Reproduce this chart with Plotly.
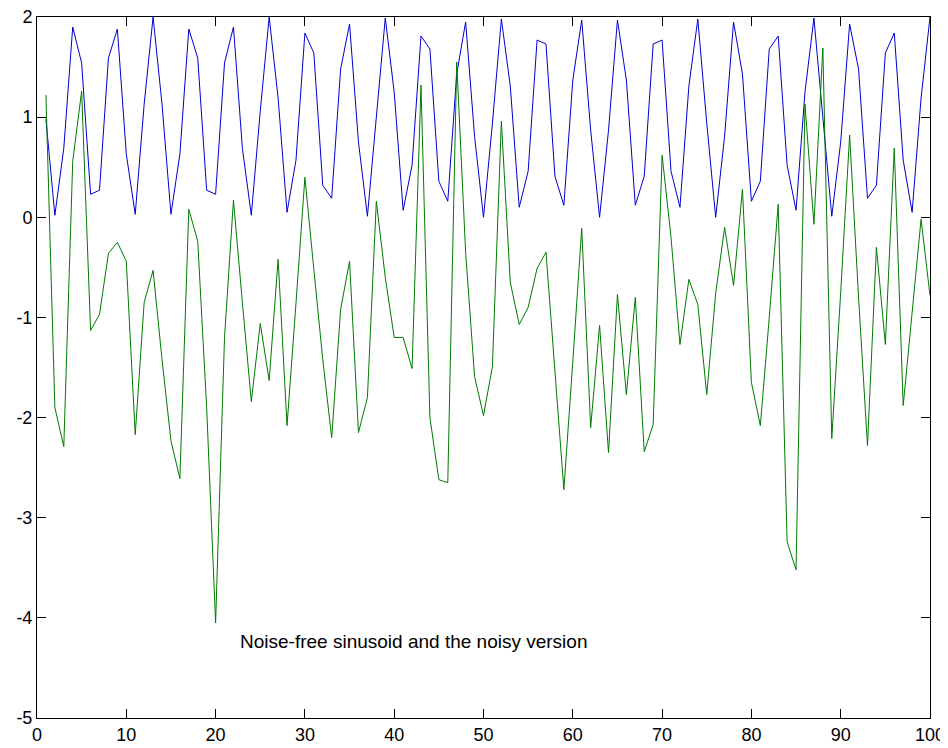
import plotly.graph_objects as go

x_vals = list(range(1, 101))

clean_signal = [
    0.98, 0.02, 0.69, 1.90, 1.54, 0.23, 0.27, 1.59, 1.88, 0.63,
    0.03, 1.13, 2.00, 1.13, 0.03, 0.63, 1.88, 1.59, 0.27, 0.23,
    1.54, 1.90, 0.69, 0.02, 1.06, 2.00, 1.19, 0.05, 0.57, 1.84,
    1.64, 0.32, 0.19, 1.48, 1.93, 0.75, 0.01, 1.00, 1.99, 1.25,
    0.07, 0.52, 1.81, 1.68, 0.36, 0.16, 1.43, 1.95, 0.81, 0.00,
    0.94, 1.98, 1.31, 0.10, 0.46, 1.77, 1.73, 0.41, 0.12, 1.37,
    1.97, 0.87, 0.00, 0.87, 1.97, 1.37, 0.12, 0.41, 1.73, 1.77,
    0.46, 0.10, 1.31, 1.98, 0.94, 0.00, 0.81, 1.95, 1.43, 0.16,
    0.36, 1.68, 1.81, 0.52, 0.07, 1.25, 1.99, 1.00, 0.01, 0.75,
    1.93, 1.48, 0.19, 0.32, 1.64, 1.84, 0.57, 0.05, 1.19, 2.00,
]

noisy_signal = [
    1.22, -1.90, -2.29, 0.56, 1.26, -1.13, -0.97, -0.36, -0.25, -0.44,
    -2.17, -0.85, -0.53, -1.42, -2.23, -2.61, 0.08, -0.24, -1.90, -4.05,
    -1.20, 0.17, -0.85, -1.84, -1.06, -1.63, -0.42, -2.08, -0.86, 0.40,
    -0.52, -1.42, -2.20, -0.92, -0.44, -2.15, -1.80, 0.16, -0.60, -1.20,
    -1.20, -1.51, 1.32, -2.00, -2.62, -2.65, 1.55, -0.35, -1.59, -1.98,
    -1.49, 0.96, -0.65, -1.07, -0.90, -0.51, -0.35, -1.55, -2.72, -1.44,
    -0.11, -2.10, -1.08, -2.35, -0.77, -1.77, -0.80, -2.34, -2.07, 0.62,
    -0.20, -1.27, -0.62, -0.87, -1.77, -0.76, -0.10, -0.68, 0.28, -1.65,
    -2.08, -1.00, 0.13, -3.24, -3.52, 1.13, -0.07, 1.69, -2.21, -0.75,
    0.82, -0.80, -2.28, -0.30, -1.27, 0.69, -1.88, -0.95, -0.02, -0.78,
]

x_ticks = [0, 10, 20, 30, 40, 50, 60, 70, 80, 90, 100]
x_tick_labels = ["0", "10", "20", "30", "40", "50", "60", "70", "80", "90", "100"]
y_ticks = [-5, -4, -3, -2, -1, 0, 1, 2]
y_tick_labels = ["-5", "-4", "-3", "-2", "-1", "0", "1", "2"]

caption = "Noise-free sinusoid and the noisy version"
caption_x = 22.5
caption_y = -4.24

fig = go.Figure()
fig.add_trace(go.Scatter(x=x_vals, y=clean_signal, mode="lines",
                         line=dict(color="#0000d0", width=1), showlegend=False))
fig.add_trace(go.Scatter(x=x_vals, y=noisy_signal, mode="lines",
                         line=dict(color="#007a00", width=1), showlegend=False))

fig.add_annotation(x=caption_x, y=caption_y, text=caption, showarrow=False,
                   xanchor="left", yanchor="middle",
                   font=dict(family="Liberation Sans, Arial", size=19, color="black"))

axis_common = dict(showgrid=False, zeroline=False, showline=True, linecolor="black",
                   linewidth=1, mirror="ticks", ticks="inside", ticklen=9,
                   tickcolor="black", tickwidth=1, automargin=False,
                   ticklabeloverflow="allow",
                   tickfont=dict(family="Liberation Sans, Arial", size=18, color="black"))

fig.update_xaxes(range=[0, 100], tickvals=x_ticks, ticktext=x_tick_labels, **axis_common)
fig.update_yaxes(range=[-5, 2], tickvals=y_ticks, ticktext=y_tick_labels, **axis_common)

# page body has an 8px offset, so the figure is sized to fit inside the window
fig.update_layout(width=940, height=740, plot_bgcolor="white", paper_bgcolor="white",
                  margin=dict(l=29, r=18, t=9, b=30))

fig.write_html("out.html")
